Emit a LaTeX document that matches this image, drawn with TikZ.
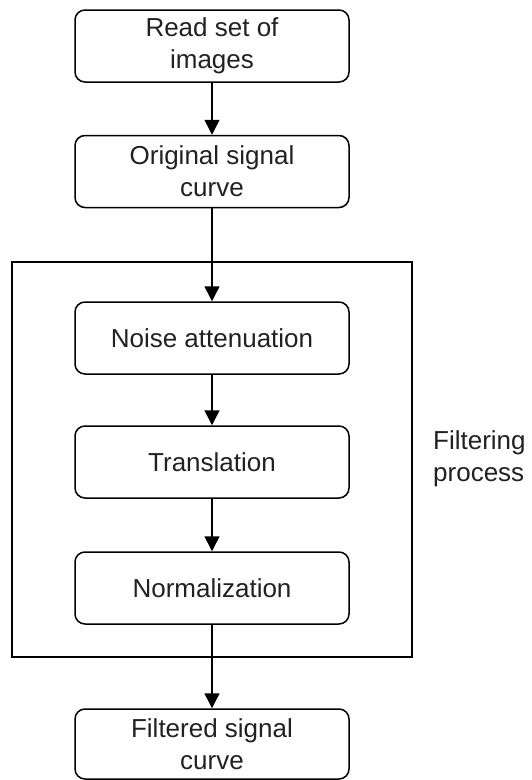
\documentclass[tikz,border=0pt]{standalone}
\usepackage{fontspec}
\setmainfont{Liberation Sans}
\usetikzlibrary{arrows.meta}
\definecolor{txt}{rgb}{0.13,0.13,0.13}
\begin{document}
\begin{tikzpicture}[x=1pt,y=-1pt,
  stepbox/.style={draw=black,line width=1.5pt,rounded corners=10pt,
    minimum width=274pt,minimum height=72pt,inner sep=0pt,align=center,
    text=txt,font=\fontsize{26}{32}\selectfont},
  frame/.style={draw=black,line width=1.5pt,minimum width=400pt,minimum height=395pt,inner sep=0pt},
  conn/.style={draw=black,line width=1.5pt,-{Triangle[length=15pt,width=15pt]}}]
\useasboundingbox (0,0) rectangle (531,780);
\node[frame] (box) at (212,459.5) {};
\node[stepbox] (read) at (212,46) {Read set of\\images};
\node[stepbox] (orig) at (212,171.5) {Original signal\\curve};
\node[stepbox] (noise) at (212,338) {Noise attenuation};
\node[stepbox] (trans) at (212,462) {Translation};
\node[stepbox] (norm) at (212,588) {Normalization};
\node[stepbox,minimum height=70pt] (filt) at (212,744) {Filtered signal\\curve};
\node[anchor=west,inner sep=0pt,align=left,text=txt,font=\fontsize{26}{32}\selectfont] (lab) at (433,459) {Filtering\\process};
\draw[conn] (read) -- (orig);
\draw[conn] (orig) -- (noise);
\draw[conn] (noise) -- (trans);
\draw[conn] (trans) -- (norm);
\draw[conn] (norm) -- (filt);
\end{tikzpicture}
\end{document}
